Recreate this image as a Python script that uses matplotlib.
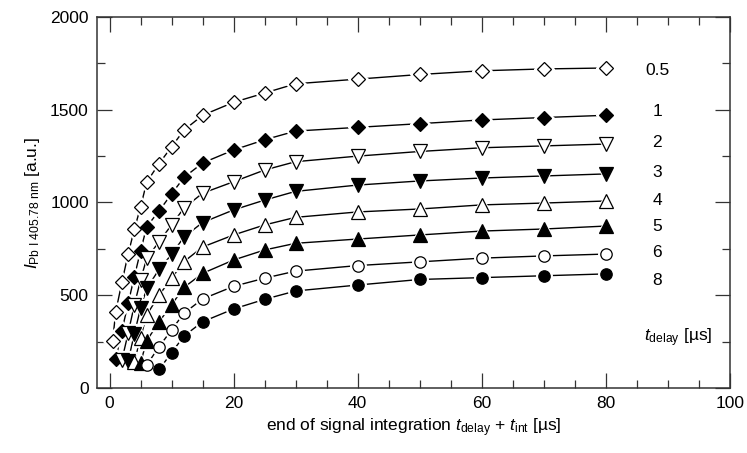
import matplotlib
matplotlib.use("Agg")
import matplotlib.pyplot as plt
from matplotlib.ticker import MultipleLocator

plt.rcParams["font.family"] = ["Liberation Sans", "DejaVu Sans"]
plt.rcParams["mathtext.fontset"] = "custom"
plt.rcParams["mathtext.rm"] = "Liberation Sans"
plt.rcParams["mathtext.it"] = "Liberation Sans:italic"

# common grid of integration end times [µs]
end_times = [0.5, 1, 2, 3, 4, 5, 6, 8, 10, 12, 15, 20, 25, 30, 40, 50, 60, 70, 80]

delays = ["0.5", "1", "2", "3", "4", "5", "6", "8"]

I_d05 = [253, 411, 570, 722, 855, 975, 1110, 1210, 1300, 1390, 1470, 1540, 1590, 1640, 1665, 1690, 1710, 1720, 1725]
I_d1 = [155, 309, 456, 600, 738, 870, 955, 1046, 1135, 1213, 1283, 1338, 1385, 1405, 1425, 1445, 1458, 1470]
I_d2 = [151, 295, 447, 582, 699, 789, 879, 970, 1050, 1112, 1175, 1220, 1250, 1275, 1295, 1305, 1315]
I_d3 = [145, 291, 430, 537, 640, 720, 814, 892, 960, 1013, 1060, 1094, 1116, 1132, 1143, 1154]
I_d4 = [140, 270, 394, 501, 591, 681, 760, 825, 879, 920, 949, 965, 987, 997, 1008]
I_d5 = [135, 255, 357, 448, 542, 618, 690, 744, 780, 803, 825, 846, 857, 873]
I_d6 = [124, 223, 313, 403, 480, 548, 592, 630, 660, 680, 700, 712, 722]
I_d8 = [100, 190, 280, 357, 426, 478, 523, 555, 585, 595, 605, 615]

series = [I_d05, I_d1, I_d2, I_d3, I_d4, I_d5, I_d6, I_d8]
markers = ["D", "D", "v", "v", "^", "^", "o", "o"]
filled = [False, True, False, True, False, True, False, True]
sizes = [7.2, 7.2, 9.5, 9.5, 9.5, 9.5, 8.2, 8.2]
label_y = [1709, 1488, 1321, 1164, 1013, 873, 733, 582]

fig = plt.figure(figsize=(7.47, 4.53), dpi=100)
ax = fig.add_axes([0.130, 0.1435, 0.847, 0.819])

for vals, m, f, ms in zip(series, markers, filled, sizes):
    xs = end_times[len(end_times) - len(vals):]
    ax.plot(xs, vals, color="black", lw=1.0, zorder=2)
    ax.plot(xs, vals, ls="none", marker=m, ms=ms + 3, mfc="white", mec="white", zorder=3)
    ax.plot(xs, vals, ls="none", marker=m, ms=ms,
            mfc="black" if f else "white", mec="black", mew=0.9, zorder=4)

for lab, y in zip(delays, label_y):
    ax.text(88.3, y, lab, ha="center", va="center", fontsize=12.5)
ax.text(91.7, 270, r"$t_{\mathrm{delay}}$ [µs]", ha="center", va="center", fontsize=12.5)

ax.set_xlim(-2, 100)
ax.set_ylim(0, 2000)
ax.xaxis.set_major_locator(MultipleLocator(20))
ax.xaxis.set_minor_locator(MultipleLocator(5))
ax.yaxis.set_major_locator(MultipleLocator(500))
ax.yaxis.set_minor_locator(MultipleLocator(250))
ax.tick_params(which="both", direction="in", top=True, right=True,
               color="#333333", width=0.9, labelsize=12.5, pad=6)
ax.tick_params(which="major", length=11)
ax.tick_params(which="minor", length=5.5)
for s in ax.spines.values():
    s.set_color("#333333")
    s.set_linewidth(1.1)

ax.set_xlabel(r"end of signal integration $t_{\mathrm{delay}}$ + $t_{\mathrm{int}}$ [µs]",
              fontsize=12.5, labelpad=4)
ax.set_ylabel(r"$I_{\mathrm{Pb\ I\ 405.78\ nm}}$ [a.u.]", fontsize=12.5, labelpad=6)

fig.savefig("out.png", dpi=100)
